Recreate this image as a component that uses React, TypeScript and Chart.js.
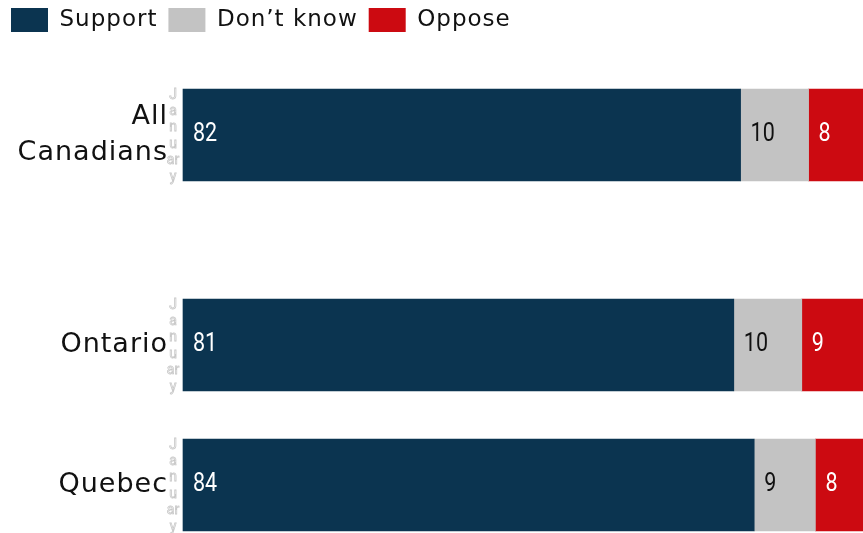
import React, { useEffect, useRef } from "react";
import { Chart, registerables } from "chart.js";

Chart.register(...registerables);

const categories: (string | string[])[] = [["All", "Canadians"], "", "", "Ontario", "", "Quebec"];
const support: (number | null)[] = [82, null, null, 81, null, 84];
const dontKnow: (number | null)[] = [10, null, null, 10, null, 9];
const oppose: (number | null)[] = [8, null, null, 9, null, 8];
const subLabel = ["J", "a", "n", "u", "ar", "y"];

const FONT = "'DejaVu Sans', sans-serif";
const NUM_FONT = "'Roboto', sans-serif";

const textSpacing = {
  id: "textSpacing",
  beforeUpdate(chart: any) {
    chart.ctx.letterSpacing = "1px";
  },
  beforeDraw(chart: any) {
    chart.ctx.letterSpacing = "1px";
  },
};

const legendSpace = {
  id: "legendSpace",
  beforeInit(chart: any) {
    const orig = chart.legend.fit;
    chart.legend.fit = function () {
      orig.bind(chart.legend)();
      this.height = 103;
    };
  },
};

const labelsPlugin = {
  id: "valueLabels",
  afterDatasetsDraw(chart: any) {
    const ctx = chart.ctx;
    ctx.save();
    ctx.letterSpacing = "0px";
    chart.data.datasets.forEach((ds: any, di: number) => {
      const meta = chart.getDatasetMeta(di);
      meta.data.forEach((el: any, i: number) => {
        const v = ds.data[i];
        if (v == null) return;
        const left = Math.min(el.x, el.base);
        ctx.save();
        ctx.translate(left + 10, el.y);
        ctx.scale(0.86, 1);
        ctx.font = `25px ${NUM_FONT}`;
        ctx.fillStyle = ds.labelColor;
        ctx.textAlign = "left";
        ctx.textBaseline = "middle";
        ctx.fillText(String(v), 0, 0);
        ctx.restore();
      });
    });
    const meta0 = chart.getDatasetMeta(0);
    meta0.data.forEach((el: any, i: number) => {
      if (support[i] == null) return;
      const top = el.y - el.height / 2;
      ctx.font = `14px Roboto, sans-serif`;
      ctx.strokeStyle = "#c8c8c8";
      ctx.lineWidth = 0.8;
      ctx.textAlign = "center";
      ctx.textBaseline = "middle";
      subLabel.forEach((s, k) => {
        ctx.strokeText(s, chart.chartArea.left - 10, top + 6 + k * 16.4);
      });
    });
    ctx.restore();
  },
};

export default function App() {
  const ref = useRef<HTMLCanvasElement | null>(null);
  useEffect(() => {
    document.body.style.margin = "0";
    const chart = new Chart(ref.current as HTMLCanvasElement, {
      type: "bar",
      data: {
        labels: categories as any,
        datasets: [
          { label: "Support", data: support, backgroundColor: "#0b3450", labelColor: "#ffffff" } as any,
          { label: "Don\u2019t know", data: dontKnow, backgroundColor: "#c3c3c3", labelColor: "#111111" } as any,
          { label: "Oppose", data: oppose, backgroundColor: "#cc0a11", labelColor: "#ffffff" } as any,
        ],
      },
      options: {
        indexAxis: "y",
        animation: false,
        responsive: false,
        maintainAspectRatio: false,
        datasets: { bar: { barThickness: 92, borderWidth: 0, clip: false } as any },
        layout: { padding: { top: -3, bottom: 13, left: 0, right: 0 } },
        scales: {
          x: { stacked: true, min: 0, max: 100, display: false, grid: { display: false } },
          y: {
            stacked: true,
            grid: { display: false, drawTicks: false },
            border: { display: false },
            afterFit: (s: any) => {
              s.paddingTop = 0;
              s.paddingBottom = 0;
              s.width = 183;
            },
            ticks: {
              color: "#111111",
              font: { family: FONT, size: 27, lineHeight: 1.3 },
              padding: 15,
              autoSkip: false,
            },
          },
        },
        plugins: {
          legend: {
            position: "top",
            align: "start",
            labels: {
              boxWidth: 37,
              boxHeight: 24,
              color: "#111111",
              font: { family: FONT, size: 23 },
              padding: 11,
            },
          },
          tooltip: { enabled: false },
        },
      },
      plugins: [textSpacing, legendSpace, labelsPlugin],
    });
    return () => chart.destroy();
  }, []);
  return <canvas ref={ref} width={863} height={533} style={{ display: "block" }} />;
}
